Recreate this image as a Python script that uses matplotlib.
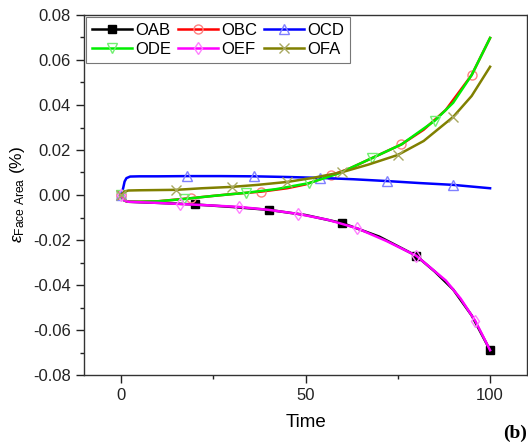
import matplotlib
matplotlib.use("Agg")
from matplotlib import pyplot as plt
from matplotlib.ticker import MultipleLocator

plt.rcParams['font.family'] = ['Liberation Sans', 'DejaVu Sans']
plt.rcParams['mathtext.fontset'] = 'custom'
plt.rcParams['mathtext.rm'] = 'Liberation Sans'
plt.rcParams['mathtext.it'] = 'Liberation Sans:italic'

# values
t_oab = [0, 1, 2, 5, 10, 20, 30, 40, 50, 60, 70, 80, 85, 90, 95, 100]
v_oab = [0, -0.0025, -0.003, -0.0032, -0.0035, -0.0042, -0.0053, -0.0066, -0.0089,
         -0.0125, -0.0185, -0.027, -0.034, -0.042, -0.0535, -0.069]
m_oab = [0, 20, 40, 60, 80, 100]

t_obc = [0, 1, 2, 5, 10, 19, 25, 30, 38, 45, 50, 57, 62, 68, 76, 82, 88, 95, 100]
v_obc = [0, -0.0025, -0.003, -0.003, -0.0028, -0.0014, -0.0004, 0.0004, 0.0015, 0.003,
         0.0047, 0.0088, 0.0118, 0.0164, 0.0225, 0.029, 0.0378, 0.0533, 0.0698]
m_obc = [0, 19, 38, 57, 76, 95]

t_ocd = [0, 0.6, 1, 1.5, 2.5, 5, 10, 18, 27, 36, 45, 54, 63, 72, 81, 90, 100]
v_ocd = [0, 0.003, 0.006, 0.0075, 0.0082, 0.0083, 0.0083, 0.0084, 0.0084, 0.0083,
         0.008, 0.0076, 0.0070, 0.0062, 0.0053, 0.0045, 0.003]
m_ocd = [0, 18, 36, 54, 72, 90]

t_ode = [0, 1, 2, 5, 10, 17, 25, 34, 42, 51, 59, 68, 76, 85, 90, 95, 100]
v_ode = [0, -0.0025, -0.003, -0.003, -0.0028, -0.0018, -0.0004, 0.001, 0.0026, 0.0053,
         0.0096, 0.0164, 0.0225, 0.033, 0.041, 0.0533, 0.0698]
m_ode = [0, 17, 34, 51, 68, 85]

t_oef = [0, 1, 2, 5, 10, 16, 24, 32, 40, 48, 56, 64, 72, 80, 88, 92, 96, 100]
v_oef = [0, -0.0025, -0.003, -0.0032, -0.0035, -0.004, -0.0046, -0.0053, -0.0066,
         -0.0084, -0.011, -0.0148, -0.0205, -0.027, -0.038, -0.046, -0.056, -0.069]
m_oef = [0, 16, 32, 48, 64, 80, 96]

t_ofa = [0, 1, 2, 5, 10, 15, 22, 30, 37, 45, 52, 60, 67, 75, 82, 90, 95, 100]
v_ofa = [0, 0.0015, 0.002, 0.0021, 0.0022, 0.0023, 0.003, 0.0036, 0.0045, 0.0058,
         0.0076, 0.0102, 0.0135, 0.0178, 0.024, 0.0347, 0.044, 0.057]
m_ofa = [0, 15, 30, 45, 60, 75, 90]

series = [
    ('OAB', t_oab, v_oab, m_oab, 'black', 's', 'black', 'black', 6),
    ('OBC', t_obc, v_obc, m_obc, 'red', 'o', '#ff8080', 'none', 6.5),
    ('OCD', t_ocd, v_ocd, m_ocd, 'blue', '^', '#8080ff', 'none', 7),
    ('ODE', t_ode, v_ode, m_ode, '#00ee00', 'v', '#70f070', 'none', 7),
    ('OEF', t_oef, v_oef, m_oef, 'magenta', 'd', '#ff80ff', 'none', 6.5),
    ('OFA', t_ofa, v_ofa, m_ofa, '#808000', 'x', '#a8a860', 'none', 7),
]

fig = plt.figure(figsize=(5.28, 4.47), dpi=100)
ax = fig.add_axes([84/528, 1-375/447, 443/528, 360/447])

lines = []
for name, t, v, marks, col, mk, mcol, fcol, ms in series:
    idx = [t.index(m) for m in marks]
    ln, = ax.plot(t, v, color=col, lw=1.8, label=name, marker=mk, markevery=idx,
                  markersize=ms, markeredgecolor=mcol, markerfacecolor=fcol,
                  markeredgewidth=1.0)
    lines.append(ln)

ax.set_xlim(-10, 110)
ax.set_ylim(-0.08, 0.08)
ax.xaxis.set_major_locator(MultipleLocator(50))
ax.xaxis.set_minor_locator(MultipleLocator(25))
ax.yaxis.set_major_locator(MultipleLocator(0.02))
ax.yaxis.set_minor_locator(MultipleLocator(0.01))
ax.yaxis.set_major_formatter(plt.FuncFormatter(lambda y, p: '%.2f' % y))
ax.tick_params(which='major', direction='out', length=6, width=1, labelsize=12, colors='#222222')
ax.tick_params(which='minor', direction='out', length=3, width=1, colors='#222222')
for s in ax.spines.values():
    s.set_color('#333333')
    s.set_linewidth(1.0)

ax.set_xlabel('Time', fontsize=13.5, labelpad=8)
ax.set_ylabel(r'$\varepsilon_{\mathrm{Face\ Area}}$ (%)', fontsize=12.5, labelpad=4)

# legend filled row by row like the original
order = [0, 3, 1, 4, 2, 5]
leg = ax.legend([lines[i] for i in order], [series[i][0] for i in order],
                loc='upper left', ncol=3, fontsize=12, frameon=True, fancybox=False,
                edgecolor='#555555', handlelength=2.4, handletextpad=0.2,
                columnspacing=0.4, labelspacing=0.25, borderpad=0.35,
                bbox_to_anchor=(0.005, 0.995), borderaxespad=0)
leg.get_frame().set_linewidth(0.8)

fig.text(527/528, 1-433/447, '(b)', fontsize=14, fontweight='bold',
         family=['Liberation Serif', 'DejaVu Serif'], va='center', ha='right')

fig.savefig('out.png', dpi=100)
